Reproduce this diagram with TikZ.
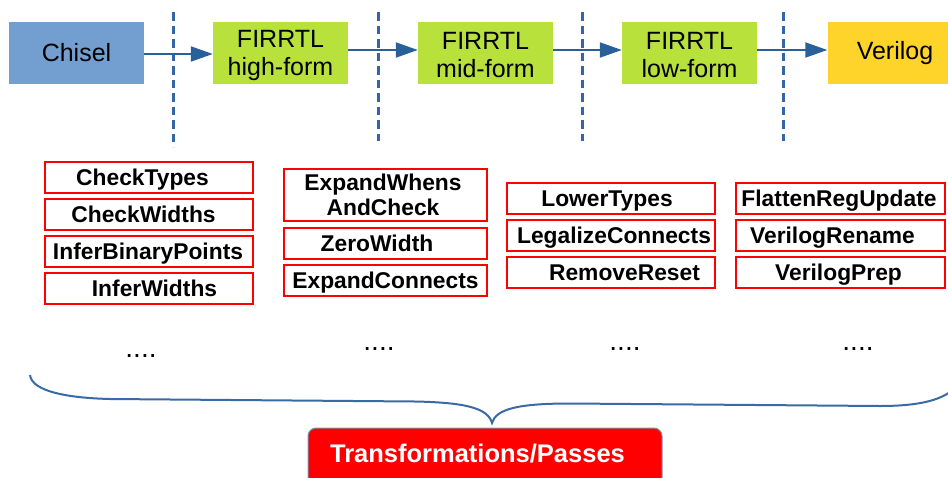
\documentclass[tikz,border=0pt]{standalone}
\usepackage{fontspec}
\setmainfont{Liberation Sans}
\usetikzlibrary{arrows.meta}

\definecolor{chiselblue}{HTML}{729FCF}
\definecolor{firrtlgreen}{HTML}{B8E13C}
\definecolor{verilogyellow}{HTML}{FFD42A}
\definecolor{flowblue}{HTML}{2A6099}
\definecolor{sepblue}{HTML}{3465A4}
\definecolor{braceblue}{HTML}{3A6AA5}
\definecolor{passred}{HTML}{FF0000}
\definecolor{tagedge}{HTML}{7F93B5}

\tikzset{
  stage/.style={fill=#1, minimum width=135, minimum height=62, inner sep=0,
    align=center, font=\fontsize{25}{28}\selectfont},
  stagelabel/.style={inner sep=0, align=center, font=\fontsize{25}{28}\selectfont,
    yshift=-2.5},
  flow/.style={draw=flowblue, line width=2,
    -{Triangle[length=22, width=15]}},
  separator/.style={draw=sepblue, line width=3, dash pattern=on 8.5 off 5},
  passbox/.style={draw=passred, line width=2, fill=white, minimum width=#1,
    minimum height=31, inner sep=0},
  passlabel/.style={font=\fontsize{22.8}{25}\selectfont\bfseries, inner sep=0,
    text height=16.4, text depth=0},
  moredots/.style={font=\fontsize{28}{30}\selectfont, inner sep=0, anchor=base},
  brace/.style={draw=braceblue, line width=2},
}

% name, centre x, centre y, box width, label shift, label
\newcommand\passnode[6]{%
  \node[passbox=#4] (#1) at (#2,#3) {};
  \node[passlabel, xshift=#5] (#1-label) at (#1.center) {#6};}

% name, centre x, label
\newcommand\firrtlnode[3]{%
  \node[stage=firrtlgreen] (#1) at (#2,53) {};
  \node[stagelabel] (#1-label) at (#1.center) {FIRRTL\\#3};}

\begin{document}
\begin{tikzpicture}[x=1pt, y=-1pt]
\useasboundingbox (0,0) rectangle (948,477);
\clip (0,0) rectangle (948,477);

% compilation flow
\node[stage=chiselblue] (chisel) at (76.5,53) {Chisel};
\firrtlnode{high}{280.5}{high-form}
\firrtlnode{mid}{485.5}{mid-form}
\firrtlnode{low}{689.5}{low-form}
\node[stage=verilogyellow] (verilog) at (895,53) {Verilog};

% separators between the forms
\draw[separator] (173,12) -- (173,147);
\draw[separator] (378,12) -- (378,141);
\draw[separator] (582,12) -- (582,141);
\draw[separator] (783,12) -- (783,141);

\draw[flow] ([yshift=-1]chisel.east) -- ([yshift=-1]chisel.east -| high.west);
\draw[flow] ([yshift=3]high.east) -- ([yshift=3]mid.west);
\draw[flow] ([yshift=3]mid.east) -- ([yshift=3]low.west);
\draw[flow] ([yshift=3]low.east) -- ([yshift=3]verilog.west);

% passes run on high form
\passnode{checktypes}{149}{177.5}{208}{-6.5}{CheckTypes}
\passnode{checkwidths}{149}{214.5}{208}{-5.5}{CheckWidths}
\passnode{inferbp}{149}{251.5}{208}{-1}{InferBinaryPoints}
\passnode{inferwidths}{149}{288}{208}{5.5}{InferWidths}

% passes run on mid form
\node[passbox=203, minimum height=52] (expandwhens) at (385.5,195) {};
\node[font=\fontsize{22.8}{25}\selectfont\bfseries, inner sep=0, align=center,
  xshift=-2.5] (expandwhens-label) at (expandwhens.center) {ExpandWhens\\AndCheck};
\passnode{zerowidth}{385.5}{243.5}{203}{-8.5}{ZeroWidth}
\passnode{expandconnects}{385.5}{280}{203}{0}{ExpandConnects}

% passes run on low form
\passnode{lowertypes}{611}{198.5}{208}{-4}{LowerTypes}
\passnode{legalize}{611}{235}{208}{3}{LegalizeConnects}
\passnode{removereset}{611}{272}{208}{13.5}{RemoveReset}

% passes run before emission
\passnode{flatten}{840.5}{198.5}{209}{-1.5}{FlattenRegUpdate}
\passnode{vrename}{840.5}{235}{209}{-8}{VerilogRename}
\passnode{vprep}{840.5}{272}{209}{-2}{VerilogPrep}

\node[moredots] (dots1) at (141,357) {....};
\node[moredots] (dots2) at (379,350) {....};
\node[moredots] (dots3) at (625,350) {....};
\node[moredots] (dots4) at (858,350) {....};

% grouping brace
\draw[brace] (30,375) .. controls (32,392) and (70,398) .. (110,399)
  -- (415,401.5) .. controls (465,402.5) and (488,408) .. (492,423)
  .. controls (496,409) and (518,403.5) .. (570,403.5)
  -- (880,406) .. controls (920,406) and (945,400) .. (958,385);

\draw[fill=passred, draw=tagedge, line width=1, rounded corners=8]
  (308,428) rectangle (662,495);
\node[font=\fontsize{25.5}{28}\selectfont\bfseries, text=white, inner sep=0,
  anchor=base] (tag) at (477.5,462) {Transformations/Passes};
\end{tikzpicture}
\end{document}
